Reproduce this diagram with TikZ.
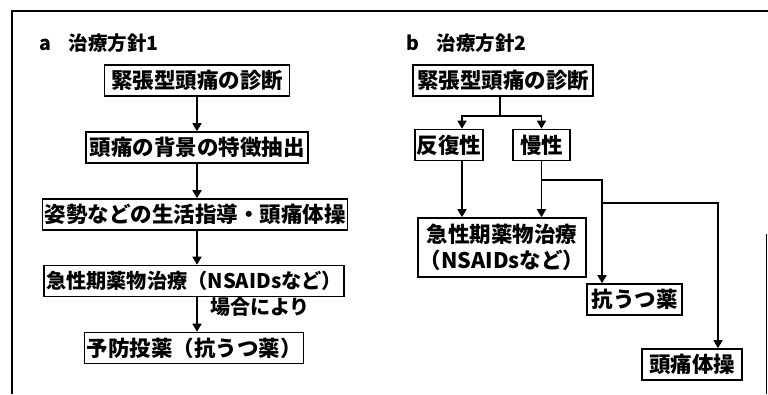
\documentclass[tikz,border=0pt]{standalone}
\usepackage{fontspec}
\newfontfamily\jpfont{Noto Sans CJK JP}
\usetikzlibrary{arrows.meta}

\begin{document}
\begin{tikzpicture}[x=1pt,y=-1pt]
        \tikzstyle{every node}=[font=\jpfont\bfseries\fontsize{21.5}{26}\selectfont]
        \tikzstyle{box}=[draw, line width=1.6pt, inner xsep=2pt, inner ysep=1.5pt, minimum height=31pt]
        \tikzstyle{arr}=[line width=1.6pt, -{Triangle[length=8pt,width=9pt]}]
        \tikzstyle{title}=[anchor=west, font=\jpfont\bfseries\fontsize{19.5}{22}\selectfont]

        \useasboundingbox (0,0) rectangle (768,394);
        \draw[line width=1.2pt] (12,394) -- (12,11) -- (768,11);
        \draw[line width=0.9pt] (766.5,234) -- (766.5,394);

        % a: treatment plan 1
        \node[title] (TitleA) at (36,43) {a\hspace{0.9em}治療方針1};
        \node[box, minimum width=185pt] (DiagA) at (197,80.5) {緊張型頭痛の診断};
        \node[box, minimum width=222pt] (FeatA) at (197,147.5) {頭痛の背景の特徴抽出};
        \node[box, minimum width=302pt] (LifeA) at (195,214.5) {姿勢などの生活指導・頭痛体操};
        \node[box, minimum width=300pt, font=\jpfont\bfseries\fontsize{20.2}{26}\selectfont] (AcuteA) at (194,281) {急性期薬物治療（NSAIDsなど）};
        \node[box, minimum width=211pt] (PrevA) at (194,348) {予防投薬（抗うつ薬）};
        \node[font=\jpfont\bfseries\fontsize{20}{22}\selectfont] (CaseA) at (260,307) {場合により};

        \draw[arr] (DiagA) -- (FeatA);
        \draw[arr] (FeatA) -- (FeatA.south |- LifeA.north);
        \draw[arr] (FeatA.south |- LifeA.south) -- (FeatA.south |- AcuteA.north);
        \draw[arr] (FeatA.south |- AcuteA.south) -- (FeatA.south |- PrevA.north);

        % b: treatment plan 2
        \node[title] (TitleB) at (403,43) {b\hspace{0.9em}治療方針2};
        \node[box, minimum width=180pt] (DiagB) at (503,80.5) {緊張型頭痛の診断};
        \node[box, minimum width=68pt] (RepB) at (449,145) {反復性};
        \node[box, minimum width=57pt] (ChrB) at (541.5,145) {慢性};
        \node[box, minimum width=160pt, minimum height=59pt, align=center] (AcuteB) at (502,247.5) {急性期薬物治療\\（NSAIDsなど）};
        \node[box, minimum width=95pt] (AntiB) at (634.5,299.5) {抗うつ薬};
        \node[box, minimum width=100pt] (ExerB) at (692,364.5) {頭痛体操};

        \coordinate (SplitB) at (500,116);
        \coordinate (TurnB) at (541.5,180);
        \coordinate (TurnC) at (602,203);

        \draw[line width=1.6pt] (DiagB.south -| SplitB) -- (SplitB);
        \draw[arr] (SplitB) -| ([xshift=13pt]RepB.north);
        \draw[arr] (SplitB) -| (ChrB.north);
        \draw[arr] ([xshift=13pt]RepB.south) -- ([xshift=13pt]RepB.south |- AcuteB.north);
        \draw[arr] (ChrB.south) -- (ChrB.south |- AcuteB.north);
        \draw[arr] (TurnB) -| ([xshift=-32.5pt]AntiB.north);
        \draw[arr] (TurnC) -| ([xshift=26pt]ExerB.north);
\end{tikzpicture}
\end{document}
